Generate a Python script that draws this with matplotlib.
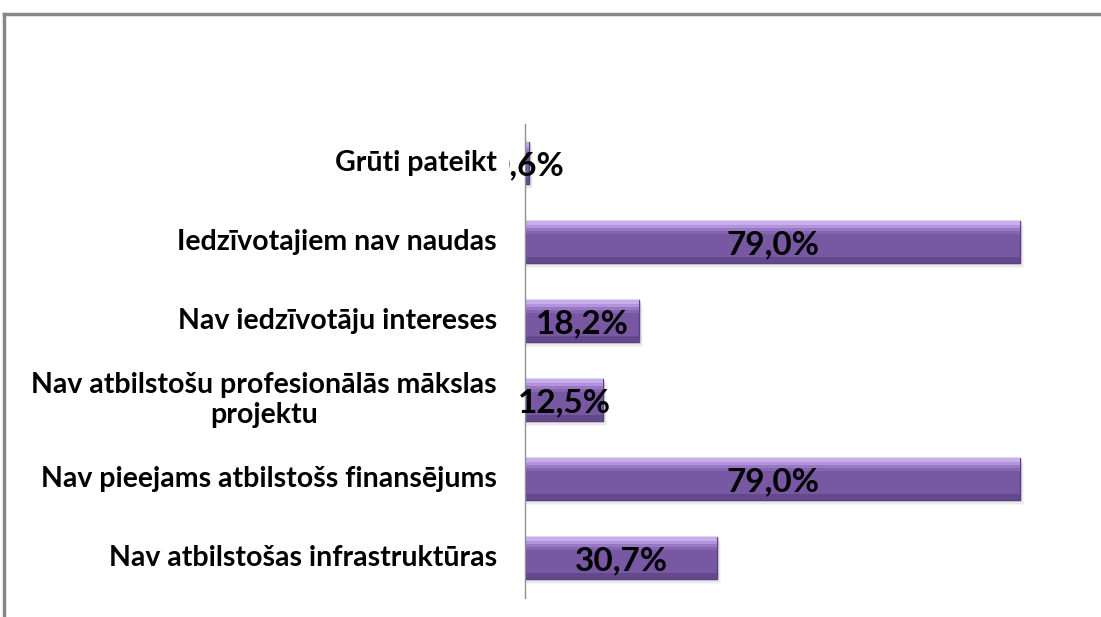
import matplotlib.pyplot as plt
from matplotlib.lines import Line2D

categories = ['Nav atbilstošas infrastruktūras',
              'Nav pieejams atbilstošs finansējums',
              'Nav atbilstošu profesionālās mākslas\nprojektu',
              'Nav iedzīvotāju intereses',
              'Iedzīvotajiem nav naudas',
              'Grūti pateikt']
values = [30.7, 79.0, 12.5, 18.2, 79.0, 0.6]
value_labels = ['30,7%', '79,0%', '12,5%', '18,2%', '79,0%', '0,6%']

plt.rcParams['font.family'] = ['Lato', 'DejaVu Sans']

fig = plt.figure(figsize=(11.01, 6.17), dpi=100)
ax = fig.add_axes([525/1101, 1 - 597.5/617, 495/1101 * 100/79, (597.5-123.5)/617])

ypos = list(range(len(values)))
h = 0.53
# soft shadow
for k, a in enumerate([0.25, 0.18, 0.1]):
    ax.barh([y - 0.03 - 0.02*k for y in ypos], [v + 0.2 + 0.15*k for v in values],
            height=h, left=0.1, color='#b0b0b0', alpha=a, linewidth=0, zorder=1)
ax.barh(ypos, values, height=h, color='#7858a3', edgecolor='#5a4180', linewidth=1.0, zorder=2)
# top highlight (gradient-ish)
hl = ['#c7adec', '#b293dc', '#9878c3', '#8666b2']
for k, c in enumerate(hl):
    ax.barh([y + h/2 - 0.025 - 0.04*k for y in ypos], values, height=0.04, color=c,
            linewidth=0, zorder=3)
ax.barh([y - h/2 + 0.035 for y in ypos], values, height=0.07, color='#63488c',
        linewidth=0, zorder=3)

for y, v, lab in zip(ypos, values, value_labels):
    ax.text(v / 2, y - 0.03, lab, ha='center', va='center', fontsize=24,
            fontweight='bold', color='black', zorder=5)

# category labels with white box (hides the overflowing "0" of 0,6% like the original)
for y, c in zip(ypos, categories):
    ax.text(-4.5, y, c, ha='right', va='center', ma='center', fontsize=20.5,
            fontweight='bold', color='black', zorder=6, clip_on=False,
            bbox=dict(facecolor='white', edgecolor='none', pad=9))

ax.set_xlim(0, 100)
ax.set_ylim(-0.5, 5.5)
ax.set_xticks([])
ax.set_yticks([])
for s in ['top', 'right', 'bottom']:
    ax.spines[s].set_visible(False)
ax.spines['left'].set_color('#909090')
ax.spines['left'].set_linewidth(1)
ax.spines['left'].set_zorder(4)

fig.add_artist(Line2D([4/1101, 4/1101], [0, 1 - 14/617], color='#888888', linewidth=2.5))
fig.add_artist(Line2D([4/1101, 1], [1 - 14/617, 1 - 14/617], color='#888888', linewidth=2.5))

fig.savefig('out.png', dpi=100)
